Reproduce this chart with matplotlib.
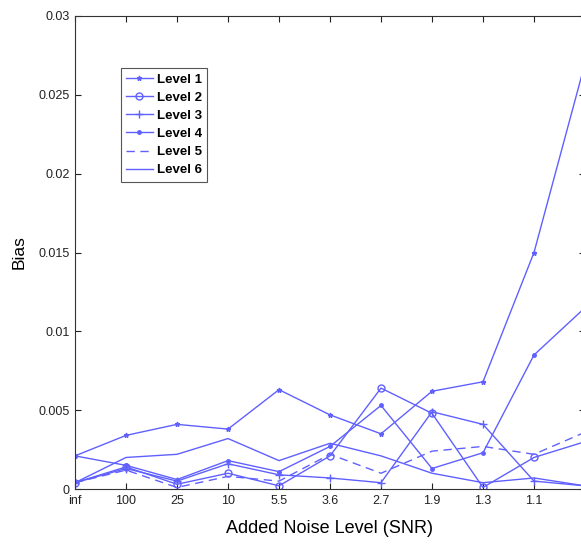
import matplotlib
matplotlib.use("Agg")
import matplotlib.pyplot as plt
import numpy as np

plt.rcParams['font.family'] = ['Liberation Sans', 'DejaVu Sans']

snr_labels = ["inf", "100", "25", "10", "5.5", "3.6", "2.7", "1.9", "1.3", "1.1", ""]

level1 = [0.0021, 0.0034, 0.0041, 0.0038, 0.0063, 0.0047, 0.0035, 0.0062, 0.0068, 0.0150, 0.0270]
level2 = [0.0004, 0.0014, 0.0003, 0.0010, 0.0002, 0.0021, 0.0064, 0.0048, 0.0001, 0.0020, 0.0030]
level3 = [0.0004, 0.0013, 0.0005, 0.0016, 0.0009, 0.0007, 0.0004, 0.0049, 0.0041, 0.0005, 0.0002]
level4 = [0.0021, 0.0015, 0.0006, 0.0018, 0.0011, 0.0027, 0.0053, 0.0013, 0.0023, 0.0085, 0.0115]
level5 = [0.0004, 0.0012, 0.0001, 0.0008, 0.0005, 0.0022, 0.0010, 0.0024, 0.0027, 0.0022, 0.0036]
level6 = [0.0004, 0.0020, 0.0022, 0.0032, 0.0018, 0.0029, 0.0021, 0.0010, 0.0004, 0.0007, 0.0002]

series = [
    ("Level 1", level1, dict(marker='*', markersize=3.5, linestyle='-')),
    ("Level 2", level2, dict(marker='o', markersize=5, markerfacecolor='none', linestyle='-')),
    ("Level 3", level3, dict(marker='+', markersize=6, linestyle='-')),
    ("Level 4", level4, dict(marker='.', markersize=5, linestyle='-')),
    ("Level 5", level5, dict(marker=None, linestyle=(0, (6, 4)))),
    ("Level 6", level6, dict(marker=None, linestyle='-')),
]

color = '#6060ff'

fig = plt.figure(figsize=(5.81, 5.44), dpi=100)
ax = fig.add_axes([75/581, 55/544, 510/581, 473/544])

x = np.arange(len(snr_labels))
for name, vals, style in series:
    ax.plot(x, vals, color=color, linewidth=1.0, label=name, **style)

ax.set_xlim(0, len(snr_labels) - 1)
ax.set_ylim(0, 0.03)
ax.set_xticks(x)
ax.set_xticklabels(snr_labels)
ax.set_yticks([0, 0.005, 0.01, 0.015, 0.02, 0.025, 0.03])
ax.set_yticklabels(["0", "0.005", "0.01", "0.015", "0.02", "0.025", "0.03"])
ax.tick_params(direction='in', length=4, width=0.8, top=True, right=True,
               labelsize=9, colors='#222222', pad=4)
for s in ax.spines.values():
    s.set_color('#333333')
    s.set_linewidth(0.8)

ax.set_xlabel("Added Noise Level (SNR)", fontsize=13, labelpad=10)
ax.set_ylabel("Bias", fontsize=12.5, labelpad=8)

leg = ax.legend(loc='upper left', bbox_to_anchor=(0.09, 0.89), frameon=True,
                fancybox=False, edgecolor='#555555', framealpha=1,
                prop={'weight': 'bold', 'size': 9.5}, handlelength=2.0,
                handletextpad=0.3, labelspacing=0.45, borderpad=0.4,
                borderaxespad=0)
leg.get_frame().set_linewidth(0.8)

fig.savefig("out.png", dpi=100)
